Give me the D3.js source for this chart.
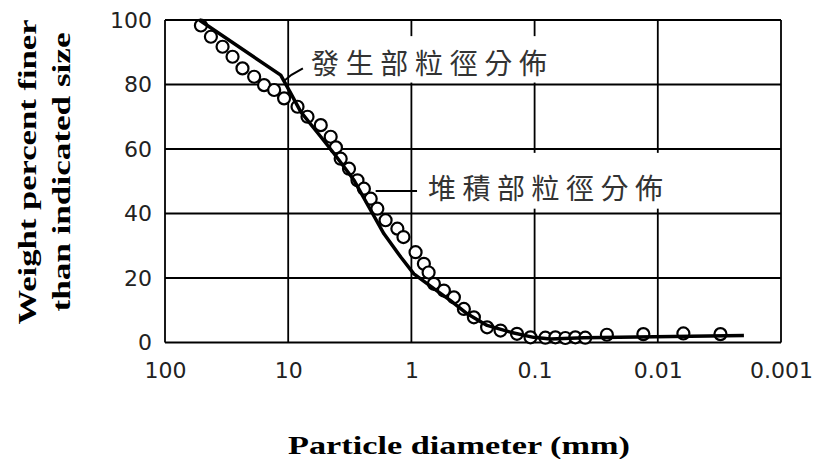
<!DOCTYPE html>
<html>
<head>
<meta charset="utf-8">
<script src="https://cdn.jsdelivr.net/npm/d3@7"></script>
<style>
  html, body { margin: 0; padding: 0; background: #fff; }
  svg { display: block; }
</style>
</head>
<body>
<svg id="chart" width="821" height="459"></svg>
<script>
// Particle size distribution: weight percent finer vs. particle diameter (log scale, reversed)
const xTicks = [100, 10, 1, 0.1, 0.01, 0.001];
const xTickLabels = ["100", "10", "1", "0.1", "0.01", "0.001"];
const yTicks = [0, 20, 40, 60, 80, 100];
const yTickLabels = ["0", "20", "40", "60", "80", "100"];

// 發生部 (source area) – solid curve
const sourceDiameter = [52.7, 11.5, 9.5, 7.9, 5.44, 4.25, 2.92, 2.14, 1.67, 1.22, 0.955, 0.657, 0.481, 0.352, 0.243, 0.157, 0.102, 0.0745, 0.04, 0.002];
const sourcePercent  = [100, 82.9, 77.2, 71.5, 63.8, 58.6, 50.3, 41.0, 33.7, 26.5, 21.3, 16.7, 13.0, 8.9, 5.3, 3.2, 1.6, 1.1, 1.5, 2.2];

// 堆積部 (deposition area) – open circles
const depositDiameter = [51.1, 42.4, 34.1, 28.3, 23.5, 18.9, 15.7, 13.0, 10.8, 8.4, 6.97, 5.44, 4.52, 4.1, 3.75, 3.21, 2.74, 2.43, 2.14, 1.89, 1.62, 1.30, 1.16, 0.925, 0.792, 0.725, 0.657, 0.545, 0.452, 0.375, 0.311, 0.243, 0.189, 0.139, 0.108, 0.0818, 0.0678, 0.0563, 0.0467, 0.0388, 0.0259, 0.0131, 0.0062, 0.0031];
const depositPercent  = [98.3, 94.8, 91.7, 88.6, 85.0, 82.4, 79.8, 78.3, 75.7, 73.1, 70.0, 67.4, 63.8, 60.5, 57.0, 53.9, 50.3, 47.7, 44.6, 41.5, 37.9, 35.3, 32.7, 28.0, 24.4, 21.7, 18.2, 16.1, 14.0, 10.4, 7.8, 4.7, 3.7, 2.7, 1.6, 1.5, 1.6, 1.4, 1.6, 1.5, 2.4, 2.6, 2.8, 2.6];

const sourceLabel = "發生部粒徑分佈";
const depositLabel = "堆積部粒徑分佈";
const xTitle = "Particle diameter (mm)";
const yTitleLines = ["Weight percent finer", "than indicated size"];

const svg = d3.select("#chart");
svg.append("rect").attr("width", 821).attr("height", 459).attr("fill", "#fff");

const x = d3.scaleLog().domain([100, 0.001]).range([165, 781]);
const y = d3.scaleLinear().domain([0, 100]).range([342.5, 20]);

// grid
const grid = svg.append("g").attr("stroke", "#000").attr("stroke-width", 1.8);
grid.selectAll("line.v").data(xTicks).join("line").attr("class", "v")
  .attr("x1", d => x(d)).attr("x2", d => x(d))
  .attr("y1", y(100)).attr("y2", y(0));
grid.selectAll("line.h").data(yTicks).join("line").attr("class", "h")
  .attr("x1", x(100)).attr("x2", x(0.001))
  .attr("y1", d => y(d)).attr("y2", d => y(d));

// label backgrounds (hide grid behind annotation text)
svg.append("rect").attr("x", 300).attr("y", y(95)).attr("width", 252).attr("height", y(80.6) - y(95)).attr("fill", "#fff");
svg.append("rect").attr("x", 415).attr("y", y(58.8)).attr("width", 253).attr("height", y(41.5) - y(58.8)).attr("fill", "#fff");

// axes
const fs = "'DejaVu Sans', sans-serif";
const xAxis = svg.append("g").attr("transform", `translate(0,${y(0)})`)
  .call(d3.axisBottom(x).tickValues(xTicks).tickSize(0).tickPadding(20)
    .tickFormat((d, i) => xTickLabels[i]));
xAxis.select(".domain").remove();
xAxis.selectAll("text").attr("font-family", fs).attr("font-size", 22).attr("fill", "#222");

const yAxis = svg.append("g").attr("transform", `translate(${x(100)},0)`)
  .call(d3.axisLeft(y).tickValues(yTicks).tickSize(0).tickPadding(13)
    .tickFormat((d, i) => yTickLabels[i]));
yAxis.select(".domain").remove();
yAxis.selectAll("text").attr("font-family", fs).attr("font-size", 22).attr("fill", "#222");

// deposition circles
const deposit = depositDiameter.map((d, i) => [d, depositPercent[i]]);
svg.append("g").selectAll("circle").data(deposit).join("circle")
  .attr("cx", d => x(d[0])).attr("cy", d => y(d[1])).attr("r", 6)
  .attr("fill", "#fff").attr("stroke", "#000").attr("stroke-width", 2.2);

// source curve
const source = sourceDiameter.map((d, i) => [d, sourcePercent[i]]);
svg.append("path").datum(source)
  .attr("fill", "none").attr("stroke", "#000").attr("stroke-width", 3.5)
  .attr("stroke-linejoin", "round")
  .attr("d", d3.line().x(d => x(d[0])).y(d => y(d[1])));

// leaders
svg.append("path").attr("fill", "none").attr("stroke", "#000").attr("stroke-width", 2)
  .attr("d", `M${x(10.9)},${y(81)} L${x(9.4)},${y(83)} L${x(7.6)},${y(85)}`);
svg.append("path").attr("fill", "none").attr("stroke", "#000").attr("stroke-width", 2)
  .attr("d", `M${x(1.95)},${y(47)} L${x(0.9)},${y(47)}`);

// annotation text
const cjk = "'Noto Sans CJK TC', 'Noto Sans CJK SC', sans-serif";
svg.append("text").attr("x", 311).attr("y", 74).text(sourceLabel)
  .attr("font-family", cjk).attr("font-size", 28).attr("font-weight", 400)
  .attr("fill", "#333").attr("textLength", 236).attr("lengthAdjust", "spacing");
svg.append("text").attr("x", 428).attr("y", 199).text(depositLabel)
  .attr("font-family", cjk).attr("font-size", 28).attr("font-weight", 400)
  .attr("fill", "#333").attr("textLength", 235).attr("lengthAdjust", "spacing");

// axis titles
const serif = "'Liberation Serif', 'DejaVu Serif', serif";
svg.append("text").attr("x", 459).attr("y", 454).text(xTitle)
  .attr("text-anchor", "middle").attr("font-family", serif).attr("font-weight", "bold")
  .attr("font-size", 26).attr("fill", "#000")
  .attr("textLength", 342).attr("lengthAdjust", "spacingAndGlyphs");

const yTitle = svg.append("g").attr("transform", "translate(0,172) rotate(-90)");
yTitle.append("text").attr("x", 0).attr("y", 36).text(yTitleLines[0])
  .attr("text-anchor", "middle").attr("font-family", serif).attr("font-weight", "bold")
  .attr("font-size", 26).attr("fill", "#000")
  .attr("textLength", 305).attr("lengthAdjust", "spacingAndGlyphs");
yTitle.append("text").attr("x", 0).attr("y", 70).text(yTitleLines[1])
  .attr("text-anchor", "middle").attr("font-family", serif).attr("font-weight", "bold")
  .attr("font-size", 26).attr("fill", "#000")
  .attr("textLength", 279).attr("lengthAdjust", "spacingAndGlyphs");
</script>
</body>
</html>
